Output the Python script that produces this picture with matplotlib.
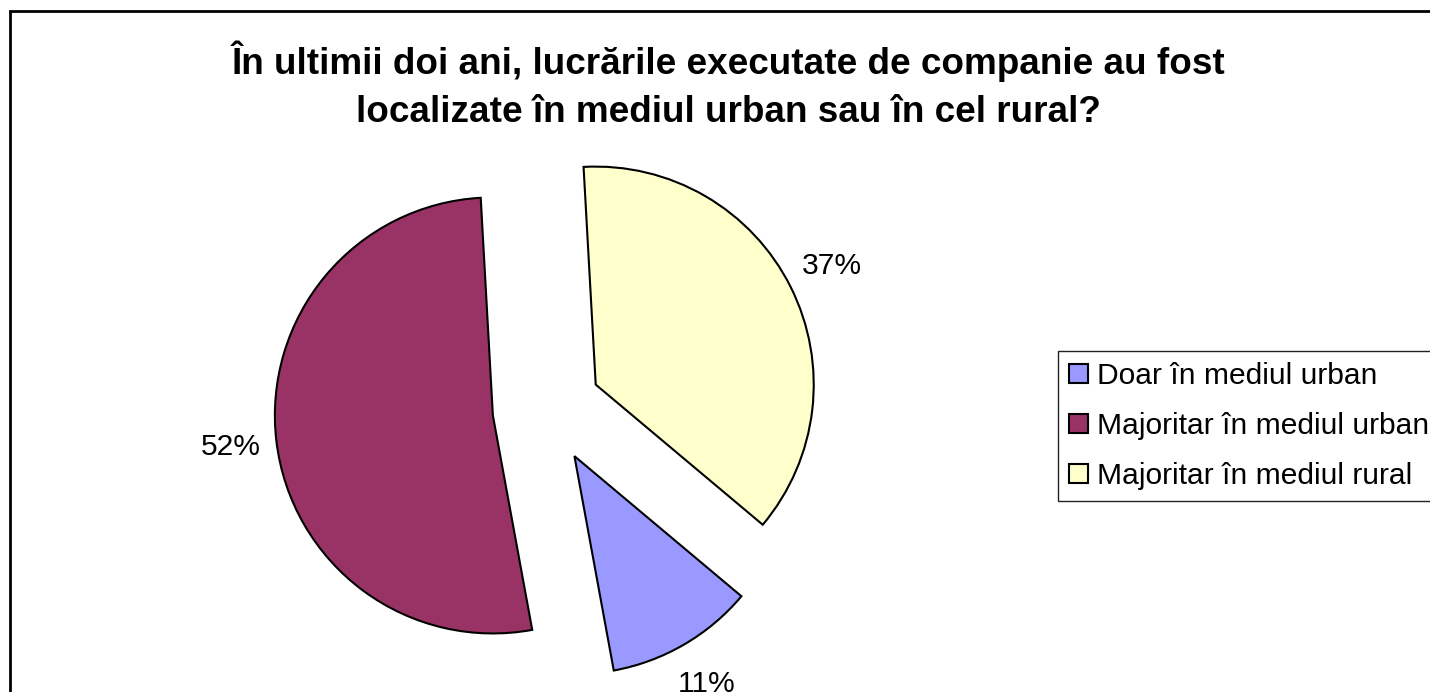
import matplotlib
matplotlib.use('Agg')
import matplotlib.pyplot as plt
from matplotlib.patches import Rectangle

# ---- data ----
categories = ['Doar în mediul urban', 'Majoritar în mediul urban', 'Majoritar în mediul rural']
values = [11, 52, 37]
pct_labels = ['11%', '52%', '37%']
colors = ['#9999FF', '#993366', '#FFFFCC']
title = ('În ultimii doi ani, lucrările executate de companie au fost\n'
         'localizate în mediul urban sau în cel rural?')

plt.rcParams['font.family'] = ['Liberation Sans', 'DejaVu Sans']

W, H = 1430, 692
fig = plt.figure(figsize=(W / 100, H / 100), dpi=100)
fig.patch.set_facecolor('white')
ax = fig.add_axes([0, 0, 1, 1])

R = 218.0           # pie radius in pixels
cx, cy = 547, 409   # pie centre in pixels (from top-left)

wedges, texts = ax.pie(values, labels=pct_labels, colors=colors,
                       startangle=-40, counterclock=False,
                       explode=[0.25] * 3, labeldistance=1.21,
                       wedgeprops=dict(edgecolor='black', linewidth=1.5),
                       textprops=dict(fontsize=21.6, color='black'))
for t in texts:
    t.set_ha('center')
    t.set_va('center')

ax.set_xlim(-cx / R, (W - cx) / R)
ax.set_ylim(-(H - cy) / R, cy / R)
ax.set_aspect('equal')
ax.axis('off')

# va='baseline' anchors the baseline of the last (second) line
fig.text(728 / W, 1 - 122 / H, title, ha='center', va='baseline',
         fontsize=26.6, fontweight='bold', linespacing=1.5)

# outer chart border (right/bottom run off the picture)
fig.patches.append(Rectangle((9.5 / W, -0.1), 1.2, 1.1 - 10.7 / H,
                             transform=fig.transFigure, fill=False,
                             edgecolor='black', linewidth=2))

leg = fig.legend(wedges, categories, loc='upper left',
                 bbox_to_anchor=(1058 / W, 1 - 351 / H),
                 frameon=True, fancybox=False, edgecolor='#222222',
                 fontsize=21.6, handlelength=0.63, handleheight=0.63,
                 handletextpad=0.3, labelspacing=0.73, borderpad=0.37,
                 borderaxespad=0, framealpha=1)
leg.get_frame().set_linewidth(1.0)

fig.savefig('out.png', dpi=100)
